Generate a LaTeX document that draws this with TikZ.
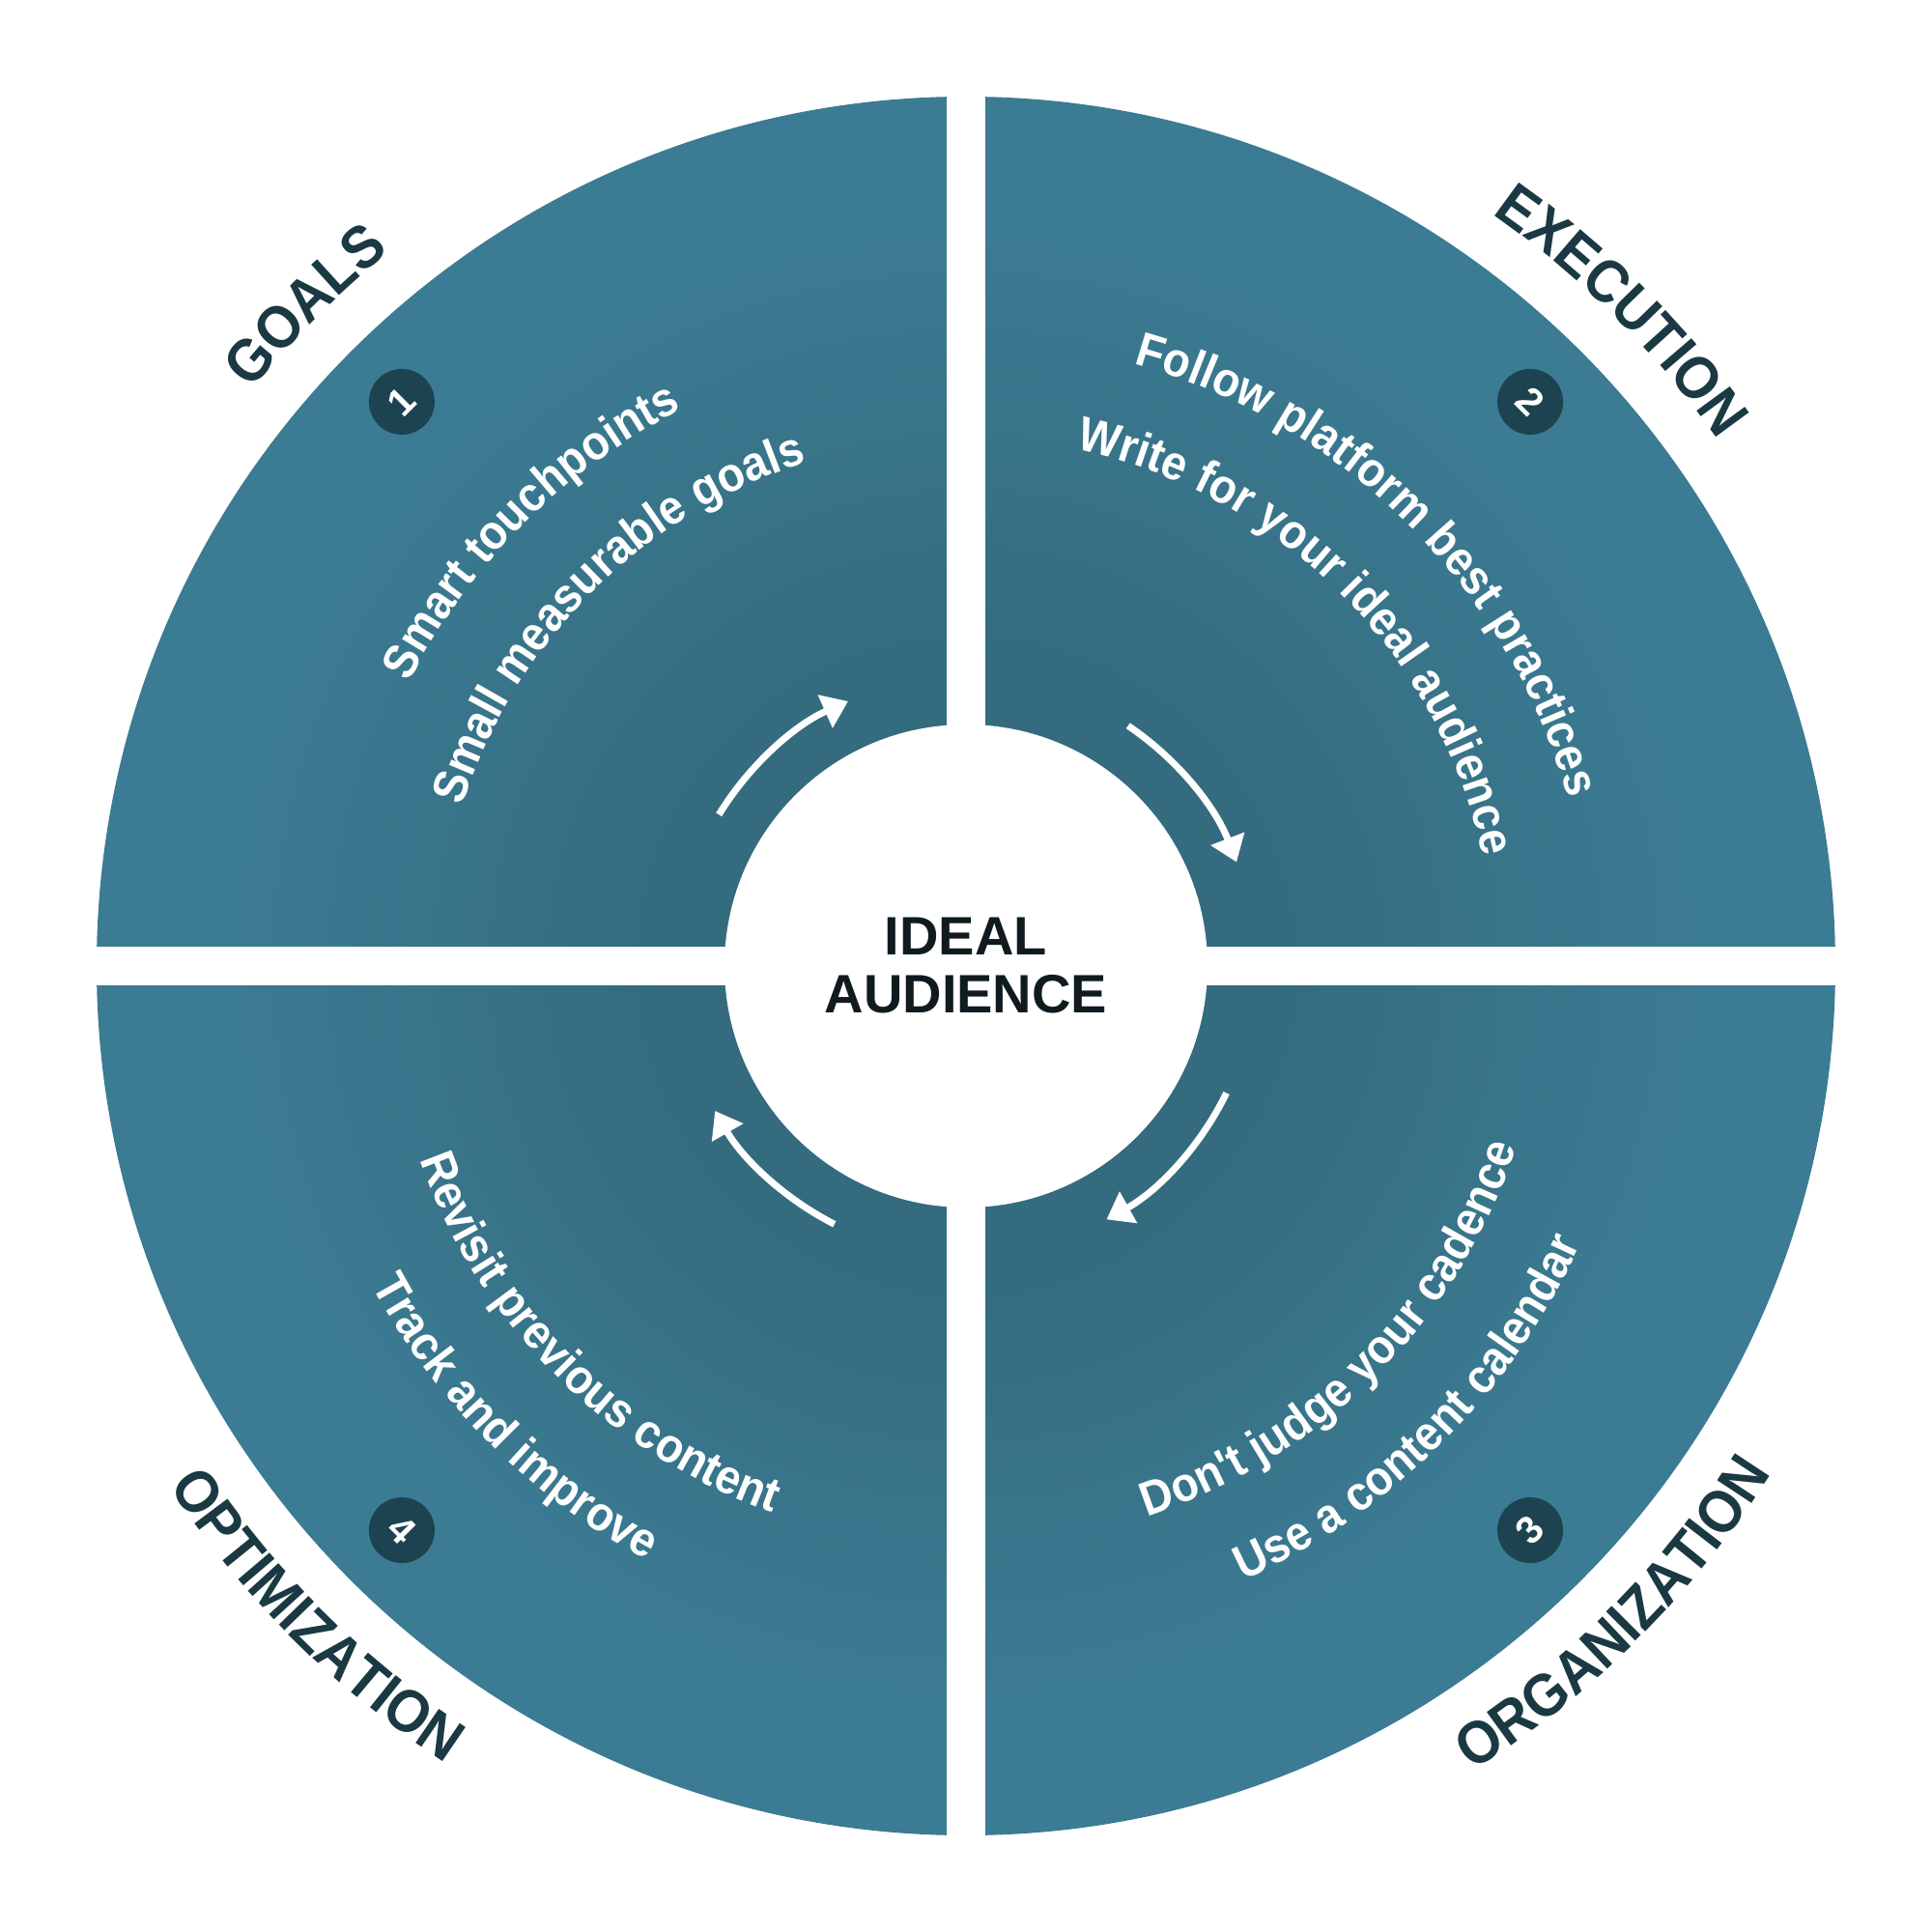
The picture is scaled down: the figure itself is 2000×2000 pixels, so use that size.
\documentclass[tikz,border=0pt]{standalone}
\usepackage{fontspec}
\setmainfont{Liberation Sans}
\newfontfamily\itemfam{Liberation Sans}[FakeStretch=0.92]
\newfontfamily\labfam{Liberation Sans}[FakeStretch=0.92]
\newfontfamily\quotefam{Liberation Sans}[Ligatures=TeXOff,FakeStretch=0.92]
\usetikzlibrary{decorations.text,arrows.meta}
\definecolor{tealL}{HTML}{3B7B93}
\definecolor{tealD}{HTML}{346B7E}
\definecolor{labcol}{HTML}{1A3943}
\definecolor{badgecol}{HTML}{1E4350}
\definecolor{centercol}{HTML}{101B1F}
\newcommand\itemfont{\itemfam\fontsize{50}{54}\selectfont\bfseries}
\newcommand\labelfont{\labfam\fontsize{62}{64}\selectfont\bfseries}
\newcommand\apos{\quotefam\bfseries\fontsize{50}{54}\selectfont'}
\tikzset{
  itemtext/.style={decorate, decoration={text along path, text align=center, text color=white, text={|\itemfont|#1}}},
  labeltext/.style={decorate, decoration={text along path, text align=center, text color=labcol, text={|\labelfont|#1}}},
  cyclearrow/.style={white, line width=7pt, -{Triangle[length=26pt,width=36pt]}},
  badgenode/.style={circle, fill=badgecol, minimum size=68pt, inner sep=0pt, text=white, font=\fontsize{40}{40}\selectfont\bfseries},
}
\begin{document}
\begin{tikzpicture}[x=1pt,y=1pt]
\fill[white] (-1000,-1000) rectangle (1000,1000);
\useasboundingbox (-1000,-1000) rectangle (1000,1000);
% wheel with radial darkening toward the centre
\foreach \k in {0,...,45} {
  \pgfmathsetmacro\rr{900-\k*14}
  \pgfmathsetmacro\pp{min(100,max(0,(760-\rr)/440*100))}
  \fill[tealD!\pp!tealL] (0,0) circle[radius=\rr];
}
\fill[white] (-1000,-20) rectangle (1000,20);
\fill[white] (-20,-1000) rectangle (20,1000);
\fill[white] (0,0) circle[radius=250];
% center
\node[align=center, text=centercol, font=\fontsize{56}{60}\selectfont\bfseries] (ideal) at (0,0) {IDEAL\\AUDIENCE};
% badges
\node[badgenode, rotate=45] (b1) at (135:826) {1};
\node[badgenode, rotate=-45] (b2) at (45:826) {2};
\node[badgenode, rotate=45] (b3) at (-45:826) {3};
\node[badgenode, rotate=-45] (b4) at (225:826) {4};
% labels
\path[labeltext=GOALS] (177:950) arc[start angle=177, end angle=93, radius=950];
\path[labeltext=EXECUTION] (87:950) arc[start angle=87, end angle=3, radius=950];
\path[labeltext=ORGANIZATION] (-87:985) arc[start angle=-87, end angle=-3, radius=985];
\path[labeltext=OPTIMIZATION] (183:985) arc[start angle=183, end angle=267, radius=985];
% items
\path[itemtext=Smart touchpoints] (177:647) arc[start angle=177, end angle=93, radius=647];
\path[itemtext=Small measurable goals] (177:547) arc[start angle=177, end angle=93, radius=547];
\path[itemtext=Follow platform best practices] (87:647) arc[start angle=87, end angle=3, radius=647];
\path[itemtext=Write for your ideal audience] (87:547) arc[start angle=87, end angle=3, radius=547];
\path[itemtext=Don{\apos}t judge your cadence] (-87:600) arc[start angle=-87, end angle=-3, radius=600];
\path[itemtext=Use a content calendar] (-87:698) arc[start angle=-87, end angle=-3, radius=698];
\path[itemtext=Revisit previous content] (183:600) arc[start angle=183, end angle=267, radius=600];
\path[itemtext=Track and improve] (183:698) arc[start angle=183, end angle=267, radius=698];
% arrows
\coordinate (a1) at (148.5:300);
\coordinate (a2) at (56:300);
\coordinate (a3) at (-26:300);
\coordinate (a4) at (243:300);
\draw[cyclearrow] (a1) arc[start angle=148.5, end angle=114, radius=300];
\draw[cyclearrow] (a2) arc[start angle=56, end angle=21, radius=300];
\draw[cyclearrow] (a3) arc[start angle=-26, end angle=-61, radius=300];
\draw[cyclearrow] (a4) arc[start angle=243, end angle=210, radius=300];
\end{tikzpicture}
\end{document}
